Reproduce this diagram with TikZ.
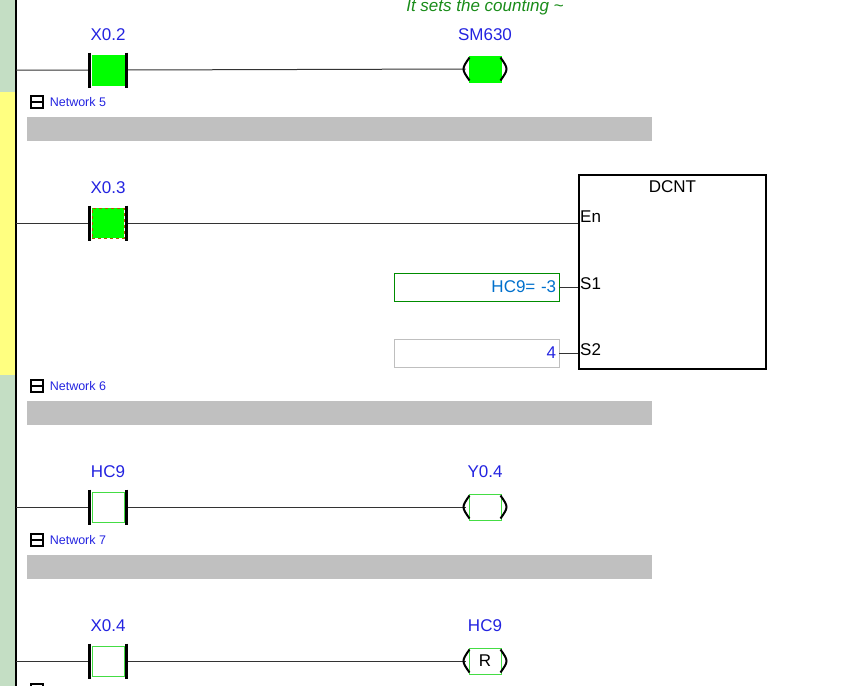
\documentclass[tikz,border=0pt]{standalone}
\usepackage{fontspec}
\setmainfont{Liberation Sans}
\usetikzlibrary{positioning}
\definecolor{plcblue}{HTML}{2323E0}
\definecolor{plcgreen}{HTML}{00FF00}
\definecolor{edgegreen}{HTML}{44DD44}
\definecolor{railgreen}{HTML}{C4DEC4}
\definecolor{railyellow}{HTML}{FFFF80}
\definecolor{barg}{HTML}{C0C0C0}
\tikzset{
  lbl/.style={font=\fontsize{17}{17}\selectfont, text=plcblue},
  net/.style={font=\fontsize{12.5}{12.5}\selectfont, text=plcblue, anchor=west, inner sep=0},
  cbox/.style={draw=edgegreen, line width=1pt, minimum width=32pt, minimum height=30pt, inner sep=0},
  kbox/.style={draw=edgegreen, line width=1pt, minimum width=32pt, minimum height=26pt, inner sep=0, font=\fontsize{17}{17}\selectfont},
  wire/.style={draw=black!80, line width=1pt},
  bar/.style={line width=2.5pt},
  ibox/.style={minimum width=165pt, minimum height=28pt, inner sep=3pt, font=\fontsize{17}{17}\selectfont, anchor=west, align=right, text width=159pt},
  pin/.style={font=\fontsize{17}{17}\selectfont, anchor=west, inner sep=2pt},
}
\newcommand{\contactbars}[1]{%
  \draw[bar] ([xshift=-2pt,yshift=2pt]#1.north west) -- ([xshift=-2pt,yshift=-2pt]#1.south west);
  \draw[bar] ([xshift=2pt,yshift=2pt]#1.north east) -- ([xshift=2pt,yshift=-2pt]#1.south east);}
\newcommand{\coilarcs}[1]{%
  \draw[line width=2pt] ([xshift=1pt,yshift=-2pt]#1.north west) .. controls ([xshift=-7pt]#1.west) .. ([xshift=1pt,yshift=2pt]#1.south west);
  \draw[line width=2pt] ([xshift=-1pt,yshift=-2pt]#1.north east) .. controls ([xshift=7pt]#1.east) .. ([xshift=-1pt,yshift=2pt]#1.south east);}
\newcommand{\netmark}[2]{%
  \node[draw, line width=1.2pt, minimum size=12pt, inner sep=0] (m#1) at (37,#2) {};
  \draw[line width=1.6pt] ([xshift=2pt]m#1.west) -- ([xshift=-2pt]m#1.east);
  \node[net, right=6pt of m#1] (n#1) {Network #1};}
\begin{document}
\begin{tikzpicture}[x=1pt, y=-1pt]
\useasboundingbox (0,0) rectangle (863,686);
% left rail
\fill[railgreen] (0,0) rectangle (15,92);
\fill[railyellow] (0,92) rectangle (15,375);
\fill[railgreen] (0,375) rectangle (15,686);
\draw[line width=1.8pt] (16,0) -- (16,686);
\coordinate (r1) at (16,70);
\coordinate (r2) at (16,223);
\coordinate (r3) at (16,507);
\coordinate (r4) at (16,661);

% network 4 (tail)
\node[cbox, draw=plcgreen, fill=plcgreen] (x02) at (108,70) {};
\node[lbl] at (108,35) {X0.2};
\node[kbox, draw=plcgreen, fill=plcgreen] (sm630) at (485,69) {};
\node[lbl] at (485,35) {SM630};
\node[font=\fontsize{17}{17}\selectfont\itshape, text=green!50!black!90] at (485,7) {It sets the counting \textasciitilde};
\path[wire] (r1) -- ([xshift=-2pt]x02.west) (x02.east) ++(2pt,0) -- ([xshift=-3pt]sm630.west);
\contactbars{x02}
\coilarcs{sm630}

% network 5
\netmark{5}{102}
\fill[barg] (27,117) rectangle (652,141);
\node[cbox, draw=orange!70!black, dashed, fill=plcgreen] (x03) at (108,223) {};
\node[lbl] at (108,188) {X0.3};
\node[draw, line width=1.8pt, minimum width=187pt, minimum height=194pt, anchor=north west] (dcnt) at (578,174) {};
\node[font=\fontsize{17}{17}\selectfont, below=3pt of dcnt.north] {DCNT};
\coordinate (en) at ([yshift=-49pt]dcnt.north west);
\node[pin] at ([yshift=6pt]en) {En};
\node[pin] (s1) at (578,284) {S1};
\node[pin] (s2) at (578,350) {S2};
\node[ibox, draw=green!55!black, text=blue!45!cyan!80!black] (hc9v) at (394,287) {HC9= -3};
\node[ibox, draw=black!25, text=plcblue] (four) at (394,353) {4};
\path[wire] (r2) -- ([xshift=-2pt]x03.west) (x03.east) ++(2pt,0) -- (en);
\path[wire] (hc9v.east) -- (578,287);
\path[wire] (four.east) -- (578,353);
\contactbars{x03}

% network 6
\netmark{6}{386}
\fill[barg] (27,401) rectangle (652,425);
\node[cbox] (hc9) at (108,507) {};
\node[lbl] at (108,472) {HC9};
\node[kbox] (y04) at (485,507) {};
\node[lbl] at (485,472) {Y0.4};
\path[wire] (r3) -- ([xshift=-2pt]hc9.west) (hc9.east) ++(2pt,0) -- ([xshift=-3pt]y04.west);
\contactbars{hc9}
\coilarcs{y04}

% network 7
\netmark{7}{540}
\fill[barg] (27,555) rectangle (652,579);
\node[cbox] (x04) at (108,661) {};
\node[lbl] at (108,626) {X0.4};
\node[kbox] (rst) at (485,661) {R};
\node[lbl] at (485,626) {HC9};
\path[wire] (r4) -- ([xshift=-2pt]x04.west) (x04.east) ++(2pt,0) -- ([xshift=-3pt]rst.west);
\contactbars{x04}
\coilarcs{rst}

% next network (cut off)
\draw[line width=1.2pt] (31,692) -- (31,684) -- (43,684) -- (43,692);
\end{tikzpicture}
\end{document}
